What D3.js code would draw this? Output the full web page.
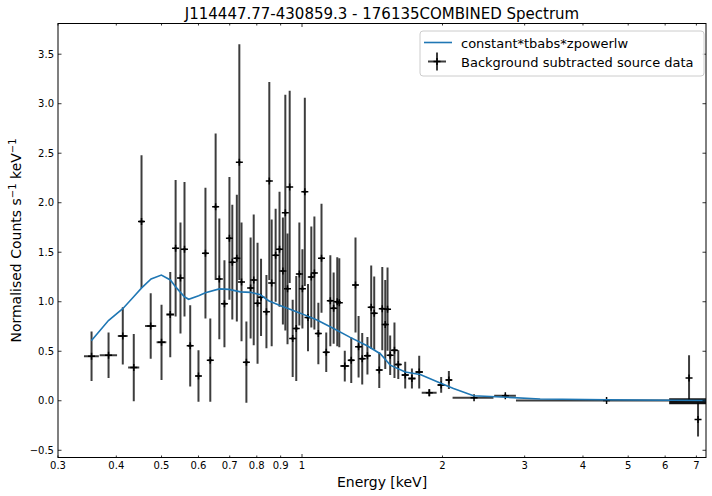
<!DOCTYPE html>
<html>
<head>
<meta charset="utf-8">
<script src="https://cdn.jsdelivr.net/npm/d3@7/dist/d3.min.js"></script>
<style>
  body { margin: 0; background: #fff; }
  text { font-family: "DejaVu Sans", sans-serif; }
</style>
</head>
<body>
<div id="vis"></div>
<script>
// Background subtracted spectrum with fitted model, log energy axis.

const TITLE = "J114447.77-430859.3 - 176135COMBINED Spectrum";

const X_TICKS = [0.3, 0.4, 0.5, 0.6, 0.7, 0.8, 0.9, 1, 2, 3, 4, 5, 6, 7];
const Y_TICKS = [-0.5, 0, 0.5, 1, 1.5, 2, 2.5, 3, 3.5];

// data bins: centre energy (keV), half width, counts, 1-sigma error
const energy = [
  0.354, 0.385, 0.413, 0.436, 0.453, 0.474, 0.500, 0.522, 0.536, 0.549,
  0.560, 0.576, 0.600, 0.621, 0.636, 0.653, 0.665, 0.682, 0.699, 0.709,
  0.725, 0.734, 0.742, 0.760, 0.776, 0.788, 0.803, 0.817, 0.839, 0.851,
  0.861, 0.878, 0.895, 0.910, 0.921, 0.931, 0.941, 0.955, 0.972, 0.987,
  1.002, 1.014, 1.030, 1.047, 1.063, 1.084, 1.101, 1.127, 1.150, 1.169,
  1.190, 1.202, 1.235, 1.275, 1.302, 1.322, 1.346, 1.381, 1.407, 1.428,
  1.464, 1.486, 1.508, 1.525, 1.545, 1.578, 1.608, 1.664, 1.720, 1.783,
  1.874, 1.987, 2.064, 2.337, 2.727, 4.494, 6.751, 7.057
];
const energyErr = [
  0.013, 0.0165, 0.010, 0.012, 0.005, 0.013, 0.012, 0.010, 0.004, 0.005,
  0.005, 0.006, 0.006, 0.006, 0.006, 0.006, 0.006, 0.007, 0.006, 0.006,
  0.006, 0.005, 0.005, 0.007, 0.007, 0.006, 0.007, 0.007, 0.008, 0.006,
  0.006, 0.008, 0.008, 0.007, 0.006, 0.006, 0.006, 0.008, 0.009, 0.008,
  0.008, 0.008, 0.009, 0.010, 0.010, 0.011, 0.010, 0.012, 0.012, 0.011,
  0.011, 0.010, 0.027, 0.016, 0.014, 0.012, 0.014, 0.017, 0.014, 0.014,
  0.018, 0.014, 0.014, 0.012, 0.014, 0.018, 0.020, 0.028, 0.030, 0.032,
  0.069, 0.034, 0.029, 0.235, 0.146, 1.620, 0.020, 0.020
];
const counts = [
  0.45, 0.46, 0.655, 0.335, 1.81, 0.755, 0.59, 0.87, 1.54, 1.24,
  1.53, 0.555, 0.25, 1.49, 0.41, 1.96, 1.23, 0.98, 1.64, 1.40,
  1.44, 2.41, 1.20, 0.39, 1.14, 1.22, 0.985, 1.045, 0.90, 2.22,
  1.19, 1.47, 1.53, 1.31, 1.90, 1.13, 2.16, 0.63, 0.73, 1.28,
  1.13, 2.11, 0.84, 1.25, 1.29, 0.68, 1.44, 0.49, 1.01, 0.935,
  1.00, 0.99, 0.35, 0.41, 1.17, 0.545, 0.425, 0.455, 0.945, 0.885,
  0.31, 0.93, 0.77, 0.925, 0.46, 0.51, 0.365, 0.26, 0.225, 0.29,
  0.08, 0.16, 0.21, 0.03, 0.05, 0.003, 0.23, -0.19
];
const countsErr = [
  0.25, 0.23, 0.29, 0.34, 0.67, 0.33, 0.38, 0.43, 0.69, 0.56,
  0.68, 0.41, 0.26, 0.66, 0.42, 0.74, 0.61, 0.44, 0.62, 0.58,
  0.64, 1.19, 0.60, 0.41, 0.51, 0.66, 0.61, 0.39, 0.37, 1.00,
  0.64, 0.47, 0.58, 0.54, 1.19, 0.56, 0.97, 0.39, 0.53, 0.52,
  0.40, 0.95, 0.34, 0.51, 0.57, 0.31, 0.55, 0.20, 0.46, 0.36,
  0.45, 0.45, 0.155, 0.23, 0.48, 0.31, 0.26, 0.19, 0.42, 0.37,
  0.18, 0.42, 0.45, 0.42, 0.20, 0.28, 0.145, 0.135, 0.10, 0.165,
  0.035, 0.08, 0.09, 0.01, 0.015, 0.005, 0.23, 0.17
];

// crowded high-energy bins that merge into one dark block
const blockLo = 6.12, blockHi = 7.34, blockYLo = -0.035, blockYHi = 0.025;

// fitted model constant*tbabs*zpowerlw
const modelEnergy = [
  0.3536, 0.3848, 0.4129, 0.4358, 0.4533, 0.4749, 0.4996, 0.5223, 0.5361, 0.5597,
  0.5716, 0.6006, 0.6208, 0.6651, 0.6978, 0.7379, 0.7760, 0.8143, 0.8481, 0.8941,
  0.9361, 0.9916, 1.0767, 1.1685, 1.2687, 1.3786, 1.4711, 1.5205, 1.5454, 1.6642,
  1.7920, 1.9775, 2.1116, 2.3308, 2.7478, 3.2380, 4.51, 7.34
];
const modelCounts = [
  0.605, 0.81, 0.93, 1.05, 1.14, 1.23, 1.27, 1.22, 1.15, 1.05,
  1.025, 1.06, 1.09, 1.13, 1.125, 1.10, 1.095, 1.07, 1.01, 0.965,
  0.93, 0.885, 0.815, 0.73, 0.64, 0.555, 0.475, 0.40, 0.36, 0.29,
  0.265, 0.18, 0.125, 0.05, 0.035, 0.018, 0.01, 0.003
];

const W = 712, H = 496;
const pL = 58, pR = 706, pT = 23.5, pB = 457.5;

const x = d3.scaleLog().domain([0.3, 7.34]).range([pL, pR]);
const y = d3.scaleLinear().domain([-0.573, 3.81]).range([pB, pT]);

const svg = d3.select("#vis").append("svg").attr("width", W).attr("height", H);

svg.append("clipPath").attr("id", "plot-clip")
  .append("rect").attr("x", pL).attr("y", pT)
  .attr("width", pR - pL).attr("height", pB - pT);

const plot = svg.append("g").attr("clip-path", "url(#plot-clip)");

const pts = energy.map((e, i) => ({ e, de: energyErr[i], v: counts[i], dv: countsErr[i] }));

const EBAR = "#000", EOP = 0.76;

plot.append("rect")
  .attr("x", x(blockLo)).attr("width", x(blockHi) - x(blockLo))
  .attr("y", y(blockYHi)).attr("height", y(blockYLo) - y(blockYHi))
  .attr("fill", "#111");

plot.selectAll(".ybar").data(pts).join("line")
  .attr("x1", d => x(d.e)).attr("x2", d => x(d.e))
  .attr("y1", d => y(d.v - d.dv)).attr("y2", d => y(d.v + d.dv))
  .attr("stroke", EBAR).attr("stroke-opacity", EOP).attr("stroke-width", 2);

plot.selectAll(".xbar").data(pts).join("line")
  .attr("x1", d => x(d.e - d.de)).attr("x2", d => x(d.e + d.de))
  .attr("y1", d => y(d.v)).attr("y2", d => y(d.v))
  .attr("stroke", EBAR).attr("stroke-opacity", EOP).attr("stroke-width", 2);

// "+" markers
plot.selectAll(".mk").data(pts).join("path")
  .attr("d", d => `M${x(d.e) - 3.5},${y(d.v)}h7M${x(d.e)},${y(d.v) - 3.5}v7`)
  .attr("stroke", "#000").attr("stroke-width", 1.5).attr("fill", "none");

const model = modelEnergy.map((e, i) => ({ e, v: modelCounts[i] }));
plot.append("path").datum(model)
  .attr("fill", "none").attr("stroke", "#1f77b4").attr("stroke-width", 1.6)
  .attr("d", d3.line().x(d => x(d.e)).y(d => y(d.v)));

// frame
svg.append("rect").attr("x", pL).attr("y", pT)
  .attr("width", pR - pL).attr("height", pB - pT)
  .attr("fill", "none").attr("stroke", "#000").attr("stroke-width", 1);

// ticks pointing inward on all four sides
const tickLen = d => (d === 1 ? 3.5 : 2);
const fmtX = d => String(d);
const fmtY = d => (d < 0 ? "\u2212" : "") + Math.abs(d).toFixed(1);

const ticks = svg.append("g");
ticks.selectAll(".xt").data(X_TICKS).join("path")
  .attr("d", d => `M${x(d)},${pB}v${-tickLen(d)}M${x(d)},${pT}v${tickLen(d)}`)
  .attr("stroke", "#000").attr("stroke-width", 0.8);
ticks.selectAll(".yt").data(Y_TICKS).join("path")
  .attr("d", d => `M${pL},${y(d)}h3.5M${pR},${y(d)}h-3.5`)
  .attr("stroke", "#000").attr("stroke-width", 0.8);

ticks.selectAll(".xl").data(X_TICKS).join("text")
  .attr("x", d => x(d)).attr("y", pB + 4).attr("dy", "0.76em")
  .attr("text-anchor", "middle").style("font-size", "10px").text(fmtX);
ticks.selectAll(".yl").data(Y_TICKS).join("text")
  .attr("x", pL - 4).attr("y", d => y(d)).attr("dy", "0.35em")
  .attr("text-anchor", "end").style("font-size", "10px").text(fmtY);

// title and axis labels
svg.append("text").attr("x", (pL + pR) / 2).attr("y", 19)
  .attr("text-anchor", "middle").style("font-size", "15px").text(TITLE);

svg.append("text").attr("x", (pL + pR) / 2).attr("y", 487)
  .attr("text-anchor", "middle").style("font-size", "14px").text("Energy [keV]");

const yl = svg.append("text")
  .attr("transform", `translate(21,${(pT + pB) / 2}) rotate(-90)`)
  .attr("text-anchor", "middle").style("font-size", "14px");
yl.append("tspan").text("Normalised Counts s");
yl.append("tspan").attr("dy", -5).style("font-size", "10px").text("\u22121");
yl.append("tspan").attr("dy", 5).text(" keV");
yl.append("tspan").attr("dy", -5).style("font-size", "10px").text("\u22121");

// legend
const lg = svg.append("g").attr("transform", "translate(420,31)");
lg.append("rect").attr("width", 284).attr("height", 45).attr("rx", 3)
  .attr("fill", "#fff").attr("fill-opacity", 0.8)
  .attr("stroke", "#ccc").attr("stroke-width", 1);
lg.append("line").attr("x1", 4).attr("x2", 32).attr("y1", 11.5).attr("y2", 11.5)
  .attr("stroke", "#1f77b4").attr("stroke-width", 1.6);
lg.append("text").attr("x", 41).attr("y", 16.5).style("font-size", "13px")
  .text("constant*tbabs*zpowerlw");
lg.append("path").attr("d", "M8,30.5h18M17,21.5v18")
  .attr("stroke", "#000").attr("stroke-opacity", EOP).attr("stroke-width", 2);
lg.append("path").attr("d", "M13.5,30.5h7M17,27v7")
  .attr("stroke", "#000").attr("stroke-width", 1.5);
lg.append("text").attr("x", 41).attr("y", 35.5).style("font-size", "13px")
  .text("Background subtracted source data");
</script>
</body>
</html>
